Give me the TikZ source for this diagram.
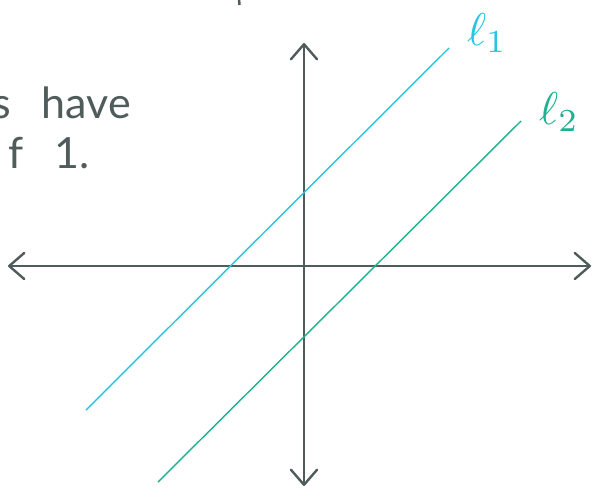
\documentclass[tikz,border=0pt]{standalone}
\usepackage{fontspec}
\setmainfont{Lato}[WordSpace=2.8]
\usetikzlibrary{arrows.meta}
\definecolor{axis}{HTML}{505C5C}
\definecolor{lineone}{HTML}{26C6E0}
\definecolor{linetwo}{HTML}{1CB28F}

\begin{document}
\begin{tikzpicture}[x=1pt,y=-1pt,
  >={Straight Barb[length=15pt,width=26pt,line width=2.4pt,round]},
  axisline/.style={axis,line width=2pt,<->},
  parline/.style={line width=1.4pt},
  lab/.style={scale=4.6,inner sep=0pt},
  txt/.style={font=\fontsize{43}{50}\selectfont,text=axis,inner sep=0pt,anchor=base east}]
  \useasboundingbox (0,0) rectangle (593,488);

  % Axes
  \coordinate (xl) at (8,266);
  \coordinate (xr) at (591,266);
  \coordinate (yt) at (304,43);
  \coordinate (yb) at (304,486);
  \draw[axisline] (xl) -- (xr);
  \draw[axisline] (yt) -- (yb);

  % Parallel lines
  \coordinate (l1a) at (86,410);
  \coordinate (l1b) at (449,48);
  \coordinate (l2a) at (158,482);
  \coordinate (l2b) at (521,121);
  \draw[parline,lineone] (l1a) -- (l1b);
  \draw[parline,linetwo] (l2a) -- (l2b);
  \node[lab,text=lineone] (labone) at (487,33) {$\ell_1$};
  \node[lab,text=linetwo] (labtwo) at (559,112) {$\ell_2$};

  % Note (cut off at the left)
  \node[txt] (have) at (131,118) {s have};
  \node[txt] (one) at (90,168) {f 1.};
  \coordinate (cuta) at (239,-1);
  \coordinate (cutb) at (239.5,5);
  \draw[axis,line width=2.5pt] (cuta) -- (cutb);
\end{tikzpicture}
\end{document}
